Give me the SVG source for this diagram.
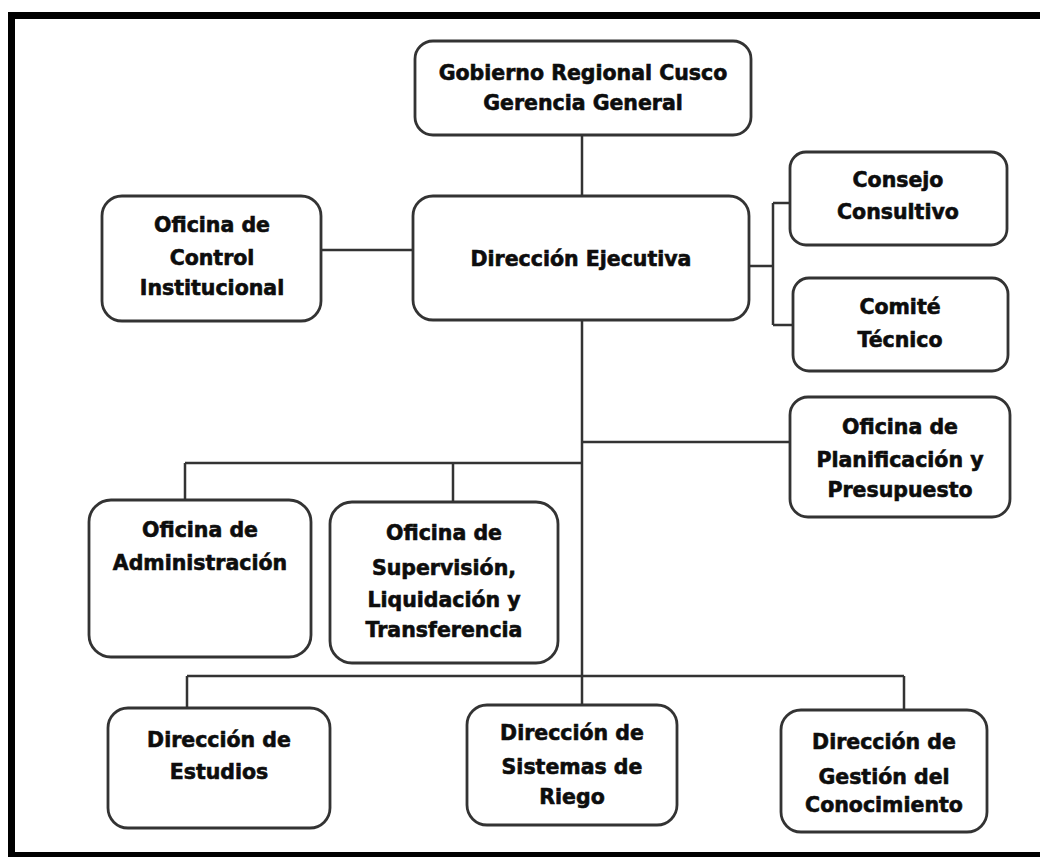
<svg xmlns="http://www.w3.org/2000/svg" width="1040" height="857" viewBox="0 0 1040 857">
<style>
.box{fill:#fff;stroke:#333;stroke-width:2.8}
.lbl{font-family:"DejaVu Sans",sans-serif;font-weight:bold;font-size:20.5px;fill:#0d0d0d;stroke:#0d0d0d;stroke-width:0.6;text-anchor:middle}
.con{stroke:#333;stroke-width:2.5;fill:none}
</style>
<rect x="0" y="0" width="1040" height="857" fill="#fff"/>
<rect x="11.5" y="15.5" width="1040" height="840" fill="none" stroke="#000" stroke-width="7"/>
<g id="connectors">
<path class="con" d="M582 136V196"/>
<path class="con" d="M321 250H413"/>
<path class="con" d="M582 320V705"/>
<path class="con" d="M749 266H773M773 203V325M773 203H790M773 325H793"/>
<path class="con" d="M582 442H790"/>
<path class="con" d="M185 463H582M185 463V500M453 463V502"/>
<path class="con" d="M187 676H904M187 676V708M904 676V710"/>
</g>
<g id="gobierno">
<rect class="box" x="415" y="41" width="336" height="94" rx="18"/>
<text class="lbl" x="583" y="80">Gobierno Regional Cusco</text>
<text class="lbl" x="583" y="110">Gerencia General</text>
</g>
<g id="direccion-ejecutiva">
<rect class="box" x="413" y="196" width="336" height="124" rx="20"/>
<text class="lbl" x="581" y="266">Dirección Ejecutiva</text>
</g>
<g id="control">
<rect class="box" x="102" y="196" width="219" height="125" rx="20"/>
<text class="lbl" x="212" y="232">Oficina de</text>
<text class="lbl" x="212" y="265">Control</text>
<text class="lbl" x="212" y="295">Institucional</text>
</g>
<g id="consejo">
<rect class="box" x="790" y="152" width="217" height="93" rx="16"/>
<text class="lbl" x="898" y="187">Consejo</text>
<text class="lbl" x="898" y="219">Consultivo</text>
</g>
<g id="comite">
<rect class="box" x="793" y="278" width="215" height="93" rx="16"/>
<text class="lbl" x="900" y="314">Comité</text>
<text class="lbl" x="900" y="347">Técnico</text>
</g>
<g id="planificacion">
<rect class="box" x="790" y="397" width="220" height="120" rx="18"/>
<text class="lbl" x="900" y="434">Oficina de</text>
<text class="lbl" x="900" y="467">Planificación y</text>
<text class="lbl" x="900" y="497">Presupuesto</text>
</g>
<g id="administracion">
<rect class="box" x="89" y="500" width="222" height="157" rx="22"/>
<text class="lbl" x="200" y="537">Oficina de</text>
<text class="lbl" x="200" y="570">Administración</text>
</g>
<g id="supervision">
<rect class="box" x="330" y="502" width="228" height="161" rx="22"/>
<text class="lbl" x="444" y="540">Oficina de</text>
<text class="lbl" x="444" y="575">Supervisión,</text>
<text class="lbl" x="444" y="607">Liquidación y</text>
<text class="lbl" x="444" y="637">Transferencia</text>
</g>
<g id="estudios">
<rect class="box" x="108" y="708" width="222" height="120" rx="20"/>
<text class="lbl" x="219" y="747">Dirección de</text>
<text class="lbl" x="219" y="779">Estudios</text>
</g>
<g id="riego">
<rect class="box" x="467" y="705" width="210" height="120" rx="20"/>
<text class="lbl" x="572" y="740">Dirección de</text>
<text class="lbl" x="572" y="774">Sistemas de</text>
<text class="lbl" x="572" y="804">Riego</text>
</g>
<g id="gestion">
<rect class="box" x="781" y="710" width="206" height="122" rx="20"/>
<text class="lbl" x="884" y="749">Dirección de</text>
<text class="lbl" x="884" y="784">Gestión del</text>
<text class="lbl" x="884" y="812">Conocimiento</text>
</g>
</svg>
